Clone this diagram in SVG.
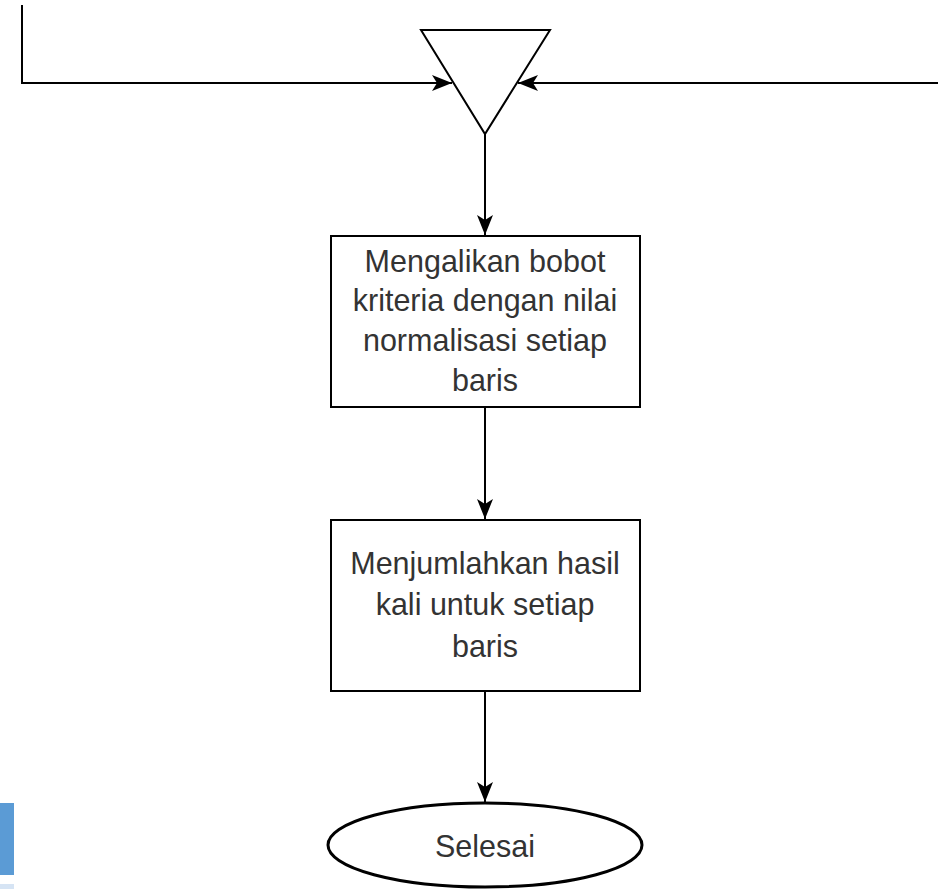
<svg xmlns="http://www.w3.org/2000/svg" width="938" height="889" viewBox="0 0 938 889">
<style>
.ln{fill:none;stroke:#000;stroke-width:2}
.bx{fill:#fff;stroke:#000;stroke-width:2}
.el{fill:#fff;stroke:#000;stroke-width:3}
.tx{font-family:"Liberation Sans",Arial,sans-serif;font-size:30.5px;fill:#333;text-anchor:middle}
</style>
<defs>
<marker id="arr" viewBox="0 0 20 16" refX="20" refY="8" markerWidth="20" markerHeight="16" markerUnits="userSpaceOnUse" orient="auto">
<path d="M0,0 L20,8 L0,16 L5,8 Z" fill="#000"/>
</marker>
</defs>
<rect x="0" y="803" width="14" height="72" fill="#5b9bd5"/>
<rect x="0" y="884" width="14" height="5" fill="#d6e4f4"/>
<g id="connectors">
<path class="ln" d="M22,5 L22,83 L452,83" marker-end="url(#arr)"/>
<path class="ln" d="M938,83 L518,83" marker-end="url(#arr)"/>
<path class="ln" d="M485,134 L485,235" marker-end="url(#arr)"/>
<path class="ln" d="M485,407 L485,519" marker-end="url(#arr)"/>
<path class="ln" d="M485,691 L485,802" marker-end="url(#arr)"/>
</g>
<g id="merge">
<polygon class="bx" points="421,30 550,30 485,134"/>
</g>
<g id="box1">
<rect class="bx" x="331" y="236" width="309" height="171"/>
<text class="tx" x="485" y="272">Mengalikan bobot</text>
<text class="tx" x="485" y="311">kriteria dengan nilai</text>
<text class="tx" x="485" y="351">normalisasi setiap</text>
<text class="tx" x="485" y="391">baris</text>
</g>
<g id="box2">
<rect class="bx" x="331" y="520" width="309" height="171"/>
<text class="tx" x="485" y="574">Menjumlahkan hasil</text>
<text class="tx" x="485" y="615">kali untuk setiap</text>
<text class="tx" x="485" y="657">baris</text>
</g>
<g id="end">
<ellipse class="el" cx="485" cy="845" rx="157" ry="42"/>
<text class="tx" x="485" y="857">Selesai</text>
</g>
</svg>
